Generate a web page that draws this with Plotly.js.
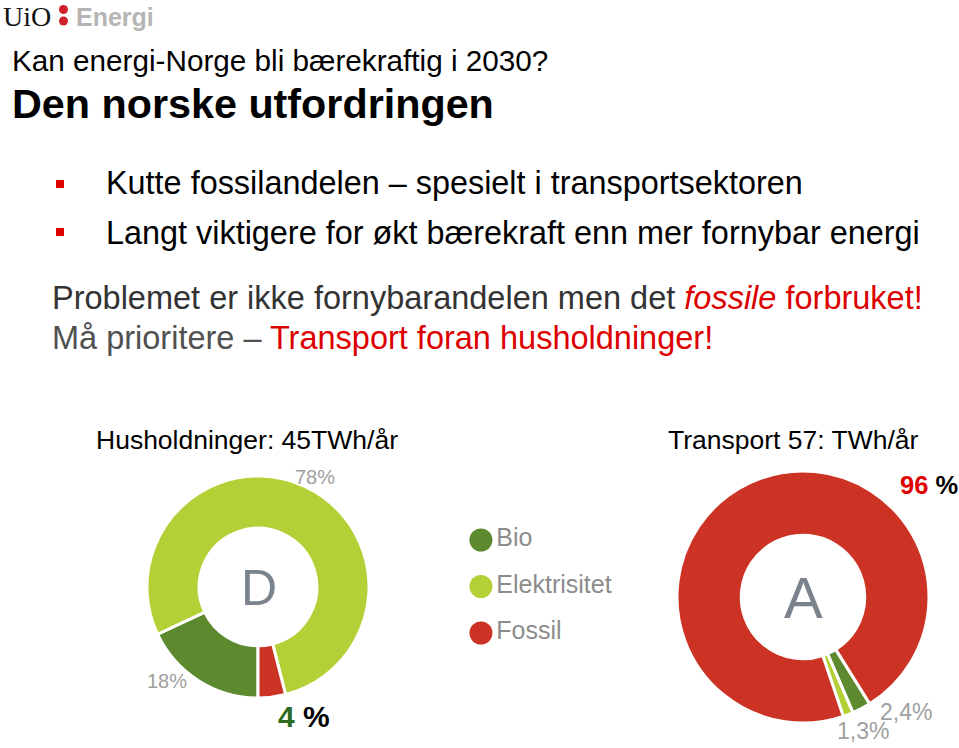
<!DOCTYPE html>
<html><head><meta charset="utf-8">
<script src="https://cdn.plot.ly/plotly-3.0.1.min.js"></script>
<style>html,body{margin:0;padding:0;background:#fff;} #chart{width:959px;height:748px;}</style>
</head><body><div id="chart"></div>
<script>
// ---- data ----
const categories = ['Bio', 'Elektrisitet', 'Fossil'];
const categoryColors = ['#5e8a2f', '#b3d136', '#cc3324'];
const householdValues = [18, 78, 4];      // % of household energy use
const transportValues = [2.4, 1.3, 96];   // % of transport energy use
const householdTitle = 'Husholdninger: 45TWh/år';
const transportTitle = 'Transport 57: TWh/år';
const householdGrade = 'D';
const transportGrade = 'A';

// ---- helpers ----
const W = 959, H = 748;
const px = x => x / W;
const py = y => 1 - y / H;
const pct = v => String(v).replace('.', ',') + '%';
const SANS = 'Liberation Sans, Arial, sans-serif';

function ann(text, x, y, size, opts) {
  return Object.assign({
    text: text, x: px(x), y: py(y), xref: 'paper', yref: 'paper',
    xanchor: 'left', yanchor: 'middle', showarrow: false,
    font: {family: SANS, size: size, color: '#000'}
  }, opts || {});
}

const idx = n => categories.indexOf(n);

const annotations = [
  // logo
  ann('UiO', 1, 17, 28, {font: {family: 'Liberation Serif, serif', size: 28, color: '#111'}}),
  ann('<b>Energi</b>', 74, 17, 25, {font: {family: SANS, size: 25, color: '#b5b5b5'}}),
  // headings
  ann('Kan energi-Norge bli bærekraftig i 2030?', 10, 61, 29.7),
  ann('<b>Den norske utfordringen</b>', 10, 104, 41.3),
  ann('Kutte fossilandelen – spesielt i transportsektoren', 104, 183, 32.4),
  ann('Langt viktigere for økt bærekraft enn mer fornybar energi', 104, 233, 32.4),
  ann('Problemet er ikke fornybarandelen men det <span style="color:#dc0000"><i>fossile</i> forbruket!</span>',
      50, 298, 32.5, {font: {family: SANS, size: 32.5, color: '#333333'}}),
  ann('Må prioritere – <span style="color:#dc0000">Transport foran husholdninger!</span>',
      50, 338, 32.5, {font: {family: SANS, size: 32.5, color: '#505050'}}),
  // chart titles
  ann(householdTitle, 94, 440, 26.5),
  ann(transportTitle, 666, 440, 26.5),
  // centre grades
  ann(householdGrade, 259, 588, 50, {xanchor: 'center', font: {family: SANS, size: 50, color: '#7a828c'}}),
  ann(transportGrade, 803, 597, 58, {xanchor: 'center', font: {family: SANS, size: 58, color: '#7a828c'}}),
  // household percentage labels
  ann(pct(householdValues[idx('Elektrisitet')]), 315, 477, 20, {xanchor: 'center', font: {family: SANS, size: 20, color: '#a0a0a0'}}),
  ann(pct(householdValues[idx('Bio')]), 167, 681, 20, {xanchor: 'center', font: {family: SANS, size: 20, color: '#a0a0a0'}}),
  ann('<b><span style="color:#2e6b22">' + householdValues[idx('Fossil')] + '</span> %</b>', 304, 716, 30, {xanchor: 'center'}),
  // transport percentage labels
  ann('<b><span style="color:#e00000">' + transportValues[idx('Fossil')] + '</span> %</b>', 929, 485, 25.5, {xanchor: 'center'}),
  ann(pct(transportValues[idx('Bio')]), 906, 712, 23, {xanchor: 'center', font: {family: SANS, size: 23, color: '#a0a0a0'}}),
  ann(pct(transportValues[idx('Elektrisitet')]), 863, 731, 23, {xanchor: 'center', font: {family: SANS, size: 23, color: '#a0a0a0'}})
];

const shapes = [
  {type: 'circle', xref: 'paper', yref: 'paper', x0: px(59), x1: px(68), y0: py(5), y1: py(14), fillcolor: '#d0202e', line: {width: 0}},
  {type: 'circle', xref: 'paper', yref: 'paper', x0: px(59), x1: px(68), y0: py(16.5), y1: py(25.5), fillcolor: '#d0202e', line: {width: 0}},
  {type: 'rect', xref: 'paper', yref: 'paper', x0: px(56), x1: px(64), y0: py(180), y1: py(188), fillcolor: '#e00000', line: {width: 0}},
  {type: 'rect', xref: 'paper', yref: 'paper', x0: px(56), x1: px(64), y0: py(228), y1: py(236), fillcolor: '#e00000', line: {width: 0}}
];

const household = {
  type: 'pie', labels: categories, values: householdValues,
  marker: {colors: categoryColors, line: {color: '#ffffff', width: 3}},
  hole: 0.53, sort: false, direction: 'clockwise', rotation: 180,
  textinfo: 'none', hoverinfo: 'label+percent', showlegend: false,
  domain: {x: [px(258 - 111), px(258 + 111)], y: [py(587 + 111), py(587 - 111)]}
};

const transport = {
  type: 'pie', labels: categories, values: transportValues,
  marker: {colors: categoryColors, line: {color: '#ffffff', width: 3}},
  hole: 0.49, sort: false, direction: 'clockwise', rotation: 148,
  textinfo: 'none', hoverinfo: 'label+percent', showlegend: false,
  domain: {x: [px(803 - 126), px(803 + 126)], y: [py(597 + 126), py(597 - 126)]}
};

const legendKey = {
  type: 'scatter', mode: 'markers+text',
  x: categories.map(() => 0), y: categories,
  text: categories, textposition: 'middle right',
  textfont: {family: SANS, size: 25, color: '#8c8c8c'},
  marker: {size: 23, color: categoryColors},
  cliponaxis: false, hoverinfo: 'skip', showlegend: false,
  xaxis: 'x', yaxis: 'y'
};

const layout = {
  width: W, height: H,
  margin: {l: 0, r: 0, t: 0, b: 0},
  paper_bgcolor: '#ffffff', plot_bgcolor: 'rgba(0,0,0,0)',
  showlegend: false,
  xaxis: {domain: [0.47, 0.533], range: [-1, 1], visible: false, fixedrange: true},
  yaxis: {domain: [py(656.25), py(516.75)], type: 'category', range: [2.5, -0.5], visible: false, fixedrange: true},
  annotations: annotations,
  shapes: shapes
};

Plotly.newPlot('chart', [household, transport, legendKey], layout, {displayModeBar: false, staticPlot: true});
</script>
</body></html>
